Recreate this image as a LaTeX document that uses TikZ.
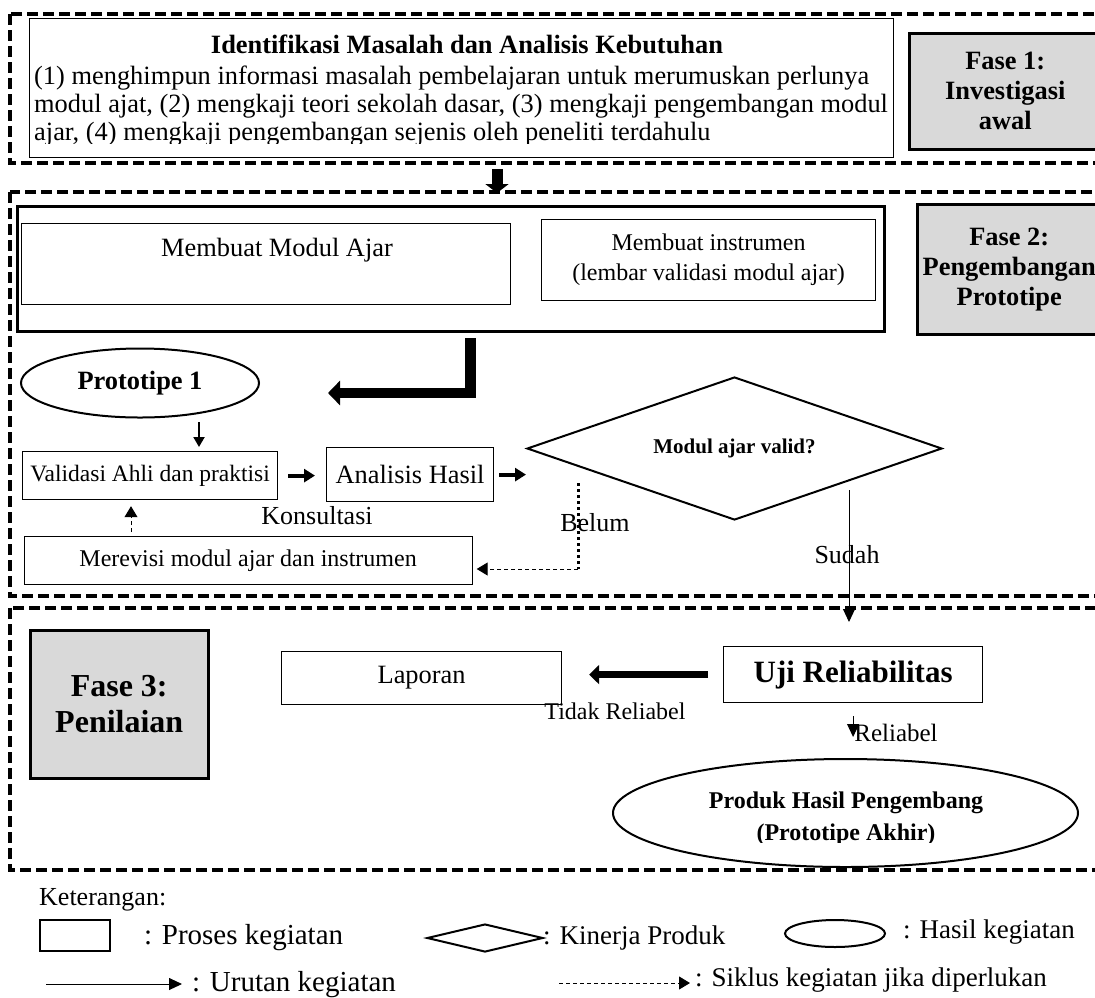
\documentclass[tikz,border=0pt]{standalone}
\usepackage{fontspec}
\setmainfont{Liberation Serif}
\usetikzlibrary{shapes.geometric,arrows.meta}
\definecolor{graybg}{RGB}{217,217,217}
\newcommand\fsz[2]{\fontsize{#1}{#2}\selectfont}
\begin{document}
\begin{tikzpicture}[x=1pt,y=-1pt,
  phase/.style={line width=3.5pt, dash pattern=on 11pt off 5pt},
  box/.style={draw, rectangle, line width=1.2pt, inner sep=0pt, anchor=north west},
  graybox/.style={draw, rectangle, line width=2.5pt, fill=graybg, inner sep=0pt, anchor=north west, align=center},
  lbl/.style={inner sep=0pt},
  thickarr/.style={line width=4pt, -{Triangle[length=11pt,width=13pt]}},
  bigarr/.style={line width=10.5pt, line join=miter, -{Triangle[length=12pt,width=24pt]}},
  fatarr/.style={line width=7pt, -{Triangle[length=10pt,width=19pt]}},
  medarr/.style={line width=2pt, -{Triangle[length=10pt,width=11pt]}},
  thinarr/.style={line width=1pt, -{Triangle[length=13pt,width=12pt]}},
  dasharr/.style={line width=1pt, dash pattern=on 4pt off 3pt, -{Triangle[length=11pt,width=13pt]}},
  dotline/.style={line width=3pt, dash pattern=on 3pt off 3pt},
]
\useasboundingbox (0,0) rectangle (1095,997);
\clip (0,0) rectangle (1095,997);

% ---------- Fase 1 ----------
\draw[phase] (10,14) rectangle (1115,163);
\node[box, minimum width=864, minimum height=139] (ident) at (29,18) {};
\node[lbl, font=\fsz{26.4}{30}\bfseries] (identT) at (467,44) {Identifikasi Masalah dan Analisis Kebutuhan};
\node[lbl, anchor=base west, font=\fsz{26.4}{30}] (identA) at (34,84) {(1) menghimpun informasi masalah pembelajaran untuk merumuskan perlunya};
\node[lbl, anchor=base west, font=\fsz{26.4}{30}] (identB) at (34,112) {modul ajat, (2) mengkaji teori sekolah dasar, (3) mengkaji pengembangan modul};
\begin{scope}
\clip (29,18) rectangle (893,143);
\node[lbl, anchor=base west, font=\fsz{26.4}{30}] (identC) at (34,140) {ajar, (4) mengkaji pengembangan sejenis oleh peneliti terdahulu};
\end{scope}
\node[graybox, minimum width=192, minimum height=116, font=\fsz{26.4}{30}\bfseries] (f1) at (908,32) {Fase 1:\\Investigasi\\awal};

\coordinate (a1s) at (497,169);
\coordinate (a1e) at (497,193);
\draw[line width=11pt, -{Triangle[length=9pt,width=23pt]}] (a1s) -- (a1e);

% ---------- Fase 2 ----------
\draw[phase] (10,192) rectangle (1115,596);
\node[box, line width=2.5pt, minimum width=867, minimum height=125] (dev) at (16,205) {};
\node[box, minimum width=489, minimum height=81] (modul) at (21,223) {};
\node[lbl, font=\fsz{26.4}{30}] (modulT) at (277,250) {Membuat Modul Ajar};
\node[box, minimum width=334, minimum height=81, align=center, font=\fsz{24}{30}] (instr) at (541,219) {Membuat instrumen\\(lembar validasi modul ajar)};
\node[graybox, minimum width=184, minimum height=130, font=\fsz{26.4}{30}\bfseries] (f2) at (916,203) {Fase 2:\\Pengembangan\\Prototipe};

\coordinate (Ls) at (470.5,338);
\coordinate (Le) at (328,393);
\draw[bigarr] (Ls) |- (Le);

\node[ellipse, draw, line width=2pt, minimum width=238, minimum height=69, inner sep=0pt] (proto) at (140,383) {};
\begin{scope}
\clip (20,348) rectangle (260,394);
\node[lbl, font=\fsz{26.4}{30}\bfseries] (protoT) at (140,383) {Prototipe 1};
\end{scope}

\node[box, minimum width=255, minimum height=48, font=\fsz{23.5}{28}] (val) at (22,451) {Validasi Ahli dan praktisi};
\node[box, minimum width=167, minimum height=54, font=\fsz{26.4}{30}] (ana) at (326,447) {Analisis Hasil};
\node[diamond, draw, line width=2pt, aspect=2.9, minimum width=415, minimum height=143, inner sep=0pt, font=\fsz{21}{25}\bfseries] (dia) at (734.5,448.5) {Modul ajar valid?};
\node[lbl, font=\fsz{26}{30}] (kons) at (317,516) {Konsultasi};
\node[box, minimum width=448, minimum height=48, font=\fsz{24}{28}] (rev) at (23.5,536) {Merevisi modul ajar dan instrumen};

\coordinate (pa) at (199,422);
\draw[medarr, shorten >=4pt] (pa) -- (pa |- val.north);
\draw[thickarr, shorten <=10pt, shorten >=11pt] (val.east) -- (val.east -| ana.west);
\draw[thickarr, shorten <=5pt] (ana.east) -- (ana.east -| dia.west);

\coordinate (ra) at (131,536);
\draw[dasharr, shorten <=4pt, shorten >=6pt] (ra) -- (ra |- val.south);

\coordinate (bl1) at (578,483);
\coordinate (bl2) at (578,569);
\draw[dotline] (bl1) -- (bl2);
\draw[dasharr, shorten >=4pt] (bl2) -- (bl2 -| rev.east);
\node[lbl, font=\fsz{26}{30}] (belum) at (595,523) {Belum};

\coordinate (sd1) at (849,490);
\coordinate (sd2) at (849,622);
\draw[thinarr] (sd1) -- (sd2);
\node[lbl, font=\fsz{26}{30}] (sudah) at (847,555) {Sudah};

% ---------- Fase 3 ----------
\draw[phase] (10,608) rectangle (1115,870);
\node[graybox, minimum width=178, minimum height=148, font=\fsz{32}{36}\bfseries] (f3) at (29,629) {Fase 3:\\Penilaian};
\node[box, minimum width=280, minimum height=53, font=\fsz{26.4}{30}] (lap) at (281,651) {Laporan};
\node[box, minimum width=259, minimum height=56, font=\fsz{31}{36}\bfseries] (uji) at (723,646) {Uji Reliabilitas};
\draw[fatarr, shorten <=15pt, shorten >=27pt] (uji.west) -- (uji.west -| lap.east);
\node[lbl, font=\fsz{24}{28}] (tidak) at (615,711) {Tidak Reliabel};

\node[ellipse, draw, line width=2pt, minimum width=465, minimum height=108, inner sep=0pt] (prod) at (845.5,813) {};
\begin{scope}
\clip (613,760) rectangle (1078,842);
\node[lbl, align=center, font=\fsz{24}{32}\bfseries] (prodT) at (846,819) {Produk Hasil Pengembang\\(Prototipe Akhir)};
\end{scope}
\draw[thinarr, shorten <=13pt, shorten >=21pt] (uji.south) -- (uji.south |- prod.north);
\node[lbl, font=\fsz{25}{30}] (rel) at (896,733) {Reliabel};

% ---------- Legend ----------
\node[lbl, anchor=west, font=\fsz{26}{30}] (ket) at (39,900) {Keterangan:};
\node[box, line width=2pt, minimum width=70, minimum height=31] (lgbox) at (39,919) {};
\node[lbl, anchor=west, font=\fsz{29}{32}] (lgboxT) at (144,938) {: Proses kegiatan};
\node[diamond, draw, line width=2pt, aspect=4, minimum width=116, minimum height=28, inner sep=0pt] (lgdia) at (485,938) {};
\node[lbl, anchor=west, font=\fsz{27}{30}] (lgdiaT) at (543,938) {: Kinerja Produk};
\node[ellipse, draw, line width=2pt, minimum width=100, minimum height=27, inner sep=0pt] (lgell) at (835,933.5) {};
\node[lbl, anchor=west, font=\fsz{27}{30}] (lgellT) at (903,932) {: Hasil kegiatan};
\node[lbl, anchor=west, font=\fsz{29}{32}] (lgarT) at (192,985) {: Urutan kegiatan};
\coordinate (la1) at (46,984);
\draw[thinarr, shorten >=10pt] (la1) -- (la1 -| lgarT.west);
\node[lbl, anchor=west, font=\fsz{27}{30}] (lgdaT) at (695,980) {: Siklus kegiatan jika diperlukan};
\coordinate (ld1) at (559,983);
\draw[dasharr, shorten >=5pt] (ld1) -- (ld1 -| lgdaT.west);
\end{tikzpicture}
\end{document}
